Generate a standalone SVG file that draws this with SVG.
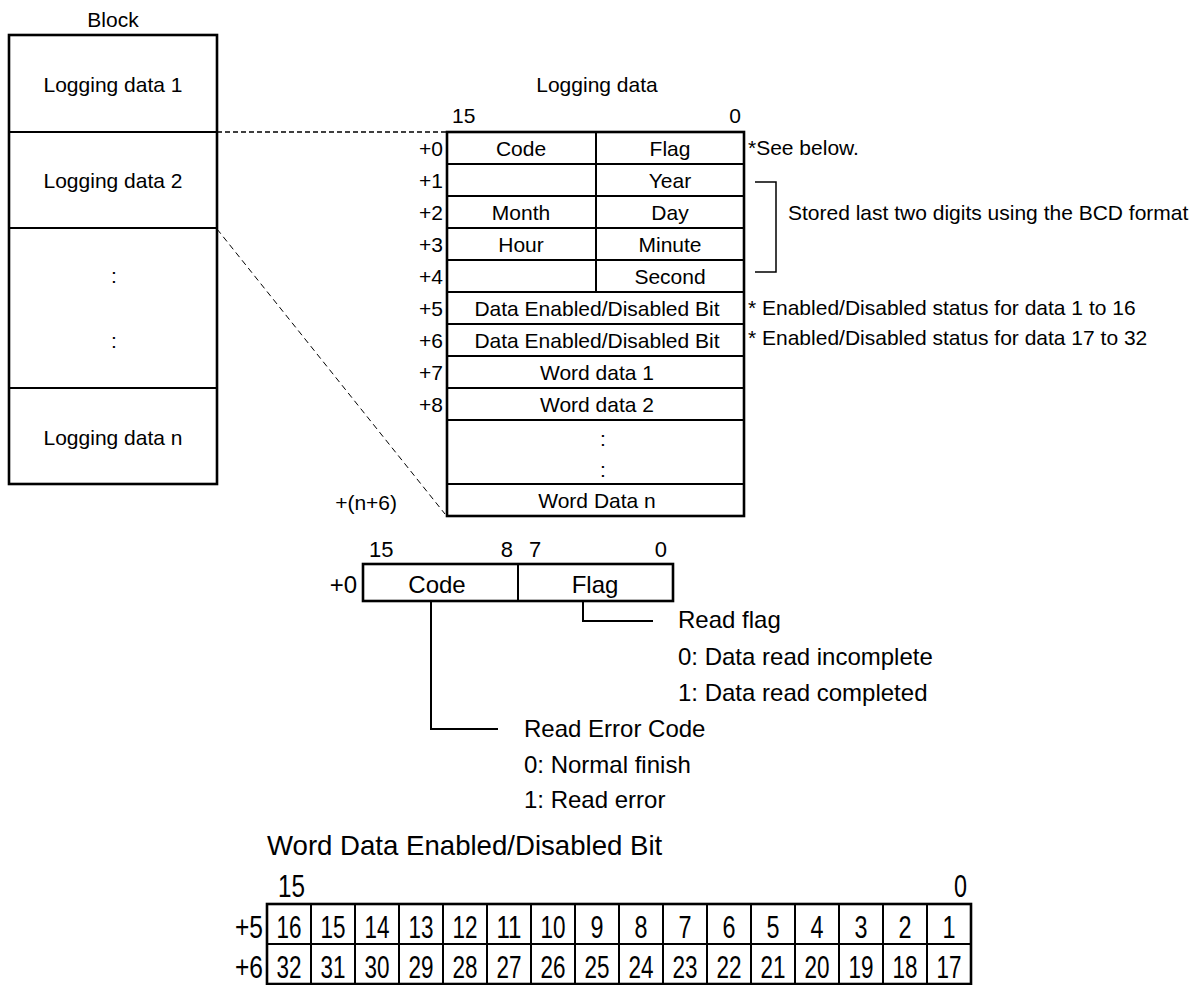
<svg xmlns="http://www.w3.org/2000/svg" width="1204" height="985" viewBox="0 0 1204 985">
<style>
text{font-family:"Liberation Sans",Arial,sans-serif;fill:#000}
.t21{font-size:21px}
.t22{font-size:22px}
.t24{font-size:24px}
.t28{font-size:27.6px}
.n{font-size:32px}
.m{text-anchor:middle}
.e{text-anchor:end}
.ln{fill:none;stroke:#000;stroke-width:2}
.ob{fill:#fff;stroke:#000;stroke-width:2.6}
.thin{fill:none;stroke:#000;stroke-width:1.5}
.dash1{fill:none;stroke:#000;stroke-width:1.5;stroke-dasharray:5 3}
.dash2{fill:none;stroke:#000;stroke-width:1;stroke-dasharray:6 4}
</style>
<rect width="1204" height="985" fill="#fff"/>

<g id="connectors">
<line class="dash1" x1="217" y1="132" x2="447" y2="132"/>
<line class="dash2" x1="217" y1="229" x2="445" y2="514"/>
<polyline class="ln" points="583,602 583,621 653,621"/>
<polyline class="ln" points="431,602 431,729 498,729"/>
<polyline class="thin" points="755,182 776,182 776,272 755,272"/>
</g>

<g id="block">
<text class="t21 m" x="113" y="27">Block</text>
<rect class="ob" x="9" y="35" width="208" height="449"/>
<line class="ln" x1="9" y1="132" x2="217" y2="132"/>
<line class="ln" x1="9" y1="228" x2="217" y2="228"/>
<line class="ln" x1="9" y1="388" x2="217" y2="388"/>
<text class="t21 m" x="113" y="92">Logging data 1</text>
<text class="t21 m" x="113" y="188">Logging data 2</text>
<text class="t21 m" x="114" y="283">:</text>
<text class="t21 m" x="114" y="348">:</text>
<text class="t21 m" x="113" y="445">Logging data n</text>
</g>

<g id="logging-data">
<text class="t21 m" x="597" y="92">Logging data</text>
<text class="t21" x="452" y="123">15</text>
<text class="t21 e" x="741" y="123">0</text>
<rect class="ob" x="447" y="132" width="297" height="384"/>
<line class="ln" x1="596" y1="132" x2="596" y2="292"/>
<g class="ln">
<line x1="447" y1="164" x2="744" y2="164"/>
<line x1="447" y1="196" x2="744" y2="196"/>
<line x1="447" y1="228" x2="744" y2="228"/>
<line x1="447" y1="260" x2="744" y2="260"/>
<line x1="447" y1="292" x2="744" y2="292"/>
<line x1="447" y1="324" x2="744" y2="324"/>
<line x1="447" y1="356" x2="744" y2="356"/>
<line x1="447" y1="388" x2="744" y2="388"/>
<line x1="447" y1="420" x2="744" y2="420"/>
<line x1="447" y1="484" x2="744" y2="484"/>
</g>
<text class="t21 e" x="443" y="156">+0</text>
<text class="t21 e" x="443" y="188">+1</text>
<text class="t21 e" x="443" y="220">+2</text>
<text class="t21 e" x="443" y="252">+3</text>
<text class="t21 e" x="443" y="284">+4</text>
<text class="t21 e" x="443" y="316">+5</text>
<text class="t21 e" x="443" y="348">+6</text>
<text class="t21 e" x="443" y="380">+7</text>
<text class="t21 e" x="443" y="412">+8</text>
<text class="t21 e" x="397" y="510">+(n+6)</text>
<text class="t21 m" x="521" y="156">Code</text>
<text class="t21 m" x="670" y="156">Flag</text>
<text class="t21 m" x="670" y="188">Year</text>
<text class="t21 m" x="521" y="220">Month</text>
<text class="t21 m" x="670" y="220">Day</text>
<text class="t21 m" x="521" y="252">Hour</text>
<text class="t21 m" x="670" y="252">Minute</text>
<text class="t21 m" x="670" y="284">Second</text>
<text class="t21 m" x="597" y="316">Data Enabled/Disabled Bit</text>
<text class="t21 m" x="597" y="348">Data Enabled/Disabled Bit</text>
<text class="t21 m" x="597" y="380">Word data 1</text>
<text class="t21 m" x="597" y="412">Word data 2</text>
<text class="t21 m" x="603" y="446">:</text>
<text class="t21 m" x="603" y="477">:</text>
<text class="t21 m" x="597" y="508">Word Data n</text>
</g>

<g id="annotations">
<text class="t21" x="748" y="155">*See below.</text>
<text class="t21" x="788" y="220">Stored last two digits using the BCD format</text>
<text class="t21" x="748" y="315">* Enabled/Disabled status for data 1 to 16</text>
<text class="t21" x="748" y="345">* Enabled/Disabled status for data 17 to 32</text>
</g>

<g id="code-flag">
<text class="t22" x="369" y="557">15</text>
<text class="t22 e" x="513" y="557">8</text>
<text class="t22" x="529" y="557">7</text>
<text class="t22 e" x="667" y="557">0</text>
<rect class="ob" x="363" y="564" width="310" height="37"/>
<line class="ln" x1="518" y1="564" x2="518" y2="601"/>
<text class="t24 e" x="357" y="593">+0</text>
<text class="t24 m" x="437" y="593">Code</text>
<text class="t24 m" x="595" y="593">Flag</text>
</g>

<g id="read-flag">
<text class="t24" x="678" y="628">Read flag</text>
<text class="t24" x="678" y="665">0: Data read incomplete</text>
<text class="t24" x="678" y="701">1: Data read completed</text>
</g>

<g id="read-error-code">
<text class="t24" x="524" y="737">Read Error Code</text>
<text class="t24" x="524" y="773">0: Normal finish</text>
<text class="t24" x="524" y="808">1: Read error</text>
</g>

<g id="bit-table">
<text class="t28" x="267" y="855">Word Data Enabled/Disabled Bit</text>
<text class="n" x="278" y="897" textLength="27" lengthAdjust="spacingAndGlyphs">15</text>
<text class="n" x="954" y="897" textLength="13" lengthAdjust="spacingAndGlyphs">0</text>
<text class="n" x="235" y="938" textLength="28" lengthAdjust="spacingAndGlyphs">+5</text>
<text class="n" x="235" y="978" textLength="28" lengthAdjust="spacingAndGlyphs">+6</text>
<rect class="ob" x="267" y="904" width="704" height="80"/>
<line class="ln" x1="267" y1="944" x2="971" y2="944"/>
<g class="ln">
<line x1="311" y1="904" x2="311" y2="984"/>
<line x1="355" y1="904" x2="355" y2="984"/>
<line x1="399" y1="904" x2="399" y2="984"/>
<line x1="443" y1="904" x2="443" y2="984"/>
<line x1="487" y1="904" x2="487" y2="984"/>
<line x1="531" y1="904" x2="531" y2="984"/>
<line x1="575" y1="904" x2="575" y2="984"/>
<line x1="619" y1="904" x2="619" y2="984"/>
<line x1="663" y1="904" x2="663" y2="984"/>
<line x1="707" y1="904" x2="707" y2="984"/>
<line x1="751" y1="904" x2="751" y2="984"/>
<line x1="795" y1="904" x2="795" y2="984"/>
<line x1="839" y1="904" x2="839" y2="984"/>
<line x1="883" y1="904" x2="883" y2="984"/>
<line x1="927" y1="904" x2="927" y2="984"/>
</g>
<g class="n m">
<text x="289" y="938" textLength="25" lengthAdjust="spacingAndGlyphs">16</text>
<text x="333" y="938" textLength="25" lengthAdjust="spacingAndGlyphs">15</text>
<text x="377" y="938" textLength="25" lengthAdjust="spacingAndGlyphs">14</text>
<text x="421" y="938" textLength="25" lengthAdjust="spacingAndGlyphs">13</text>
<text x="465" y="938" textLength="25" lengthAdjust="spacingAndGlyphs">12</text>
<text x="509" y="938" textLength="25" lengthAdjust="spacingAndGlyphs">11</text>
<text x="553" y="938" textLength="25" lengthAdjust="spacingAndGlyphs">10</text>
<text x="597" y="938" textLength="13" lengthAdjust="spacingAndGlyphs">9</text>
<text x="641" y="938" textLength="13" lengthAdjust="spacingAndGlyphs">8</text>
<text x="685" y="938" textLength="13" lengthAdjust="spacingAndGlyphs">7</text>
<text x="729" y="938" textLength="13" lengthAdjust="spacingAndGlyphs">6</text>
<text x="773" y="938" textLength="13" lengthAdjust="spacingAndGlyphs">5</text>
<text x="817" y="938" textLength="13" lengthAdjust="spacingAndGlyphs">4</text>
<text x="861" y="938" textLength="13" lengthAdjust="spacingAndGlyphs">3</text>
<text x="905" y="938" textLength="13" lengthAdjust="spacingAndGlyphs">2</text>
<text x="949" y="938" textLength="13" lengthAdjust="spacingAndGlyphs">1</text>
<text x="289" y="978" textLength="25" lengthAdjust="spacingAndGlyphs">32</text>
<text x="333" y="978" textLength="25" lengthAdjust="spacingAndGlyphs">31</text>
<text x="377" y="978" textLength="25" lengthAdjust="spacingAndGlyphs">30</text>
<text x="421" y="978" textLength="25" lengthAdjust="spacingAndGlyphs">29</text>
<text x="465" y="978" textLength="25" lengthAdjust="spacingAndGlyphs">28</text>
<text x="509" y="978" textLength="25" lengthAdjust="spacingAndGlyphs">27</text>
<text x="553" y="978" textLength="25" lengthAdjust="spacingAndGlyphs">26</text>
<text x="597" y="978" textLength="25" lengthAdjust="spacingAndGlyphs">25</text>
<text x="641" y="978" textLength="25" lengthAdjust="spacingAndGlyphs">24</text>
<text x="685" y="978" textLength="25" lengthAdjust="spacingAndGlyphs">23</text>
<text x="729" y="978" textLength="25" lengthAdjust="spacingAndGlyphs">22</text>
<text x="773" y="978" textLength="25" lengthAdjust="spacingAndGlyphs">21</text>
<text x="817" y="978" textLength="25" lengthAdjust="spacingAndGlyphs">20</text>
<text x="861" y="978" textLength="25" lengthAdjust="spacingAndGlyphs">19</text>
<text x="905" y="978" textLength="25" lengthAdjust="spacingAndGlyphs">18</text>
<text x="949" y="978" textLength="25" lengthAdjust="spacingAndGlyphs">17</text>
</g>
</g>
</svg>
